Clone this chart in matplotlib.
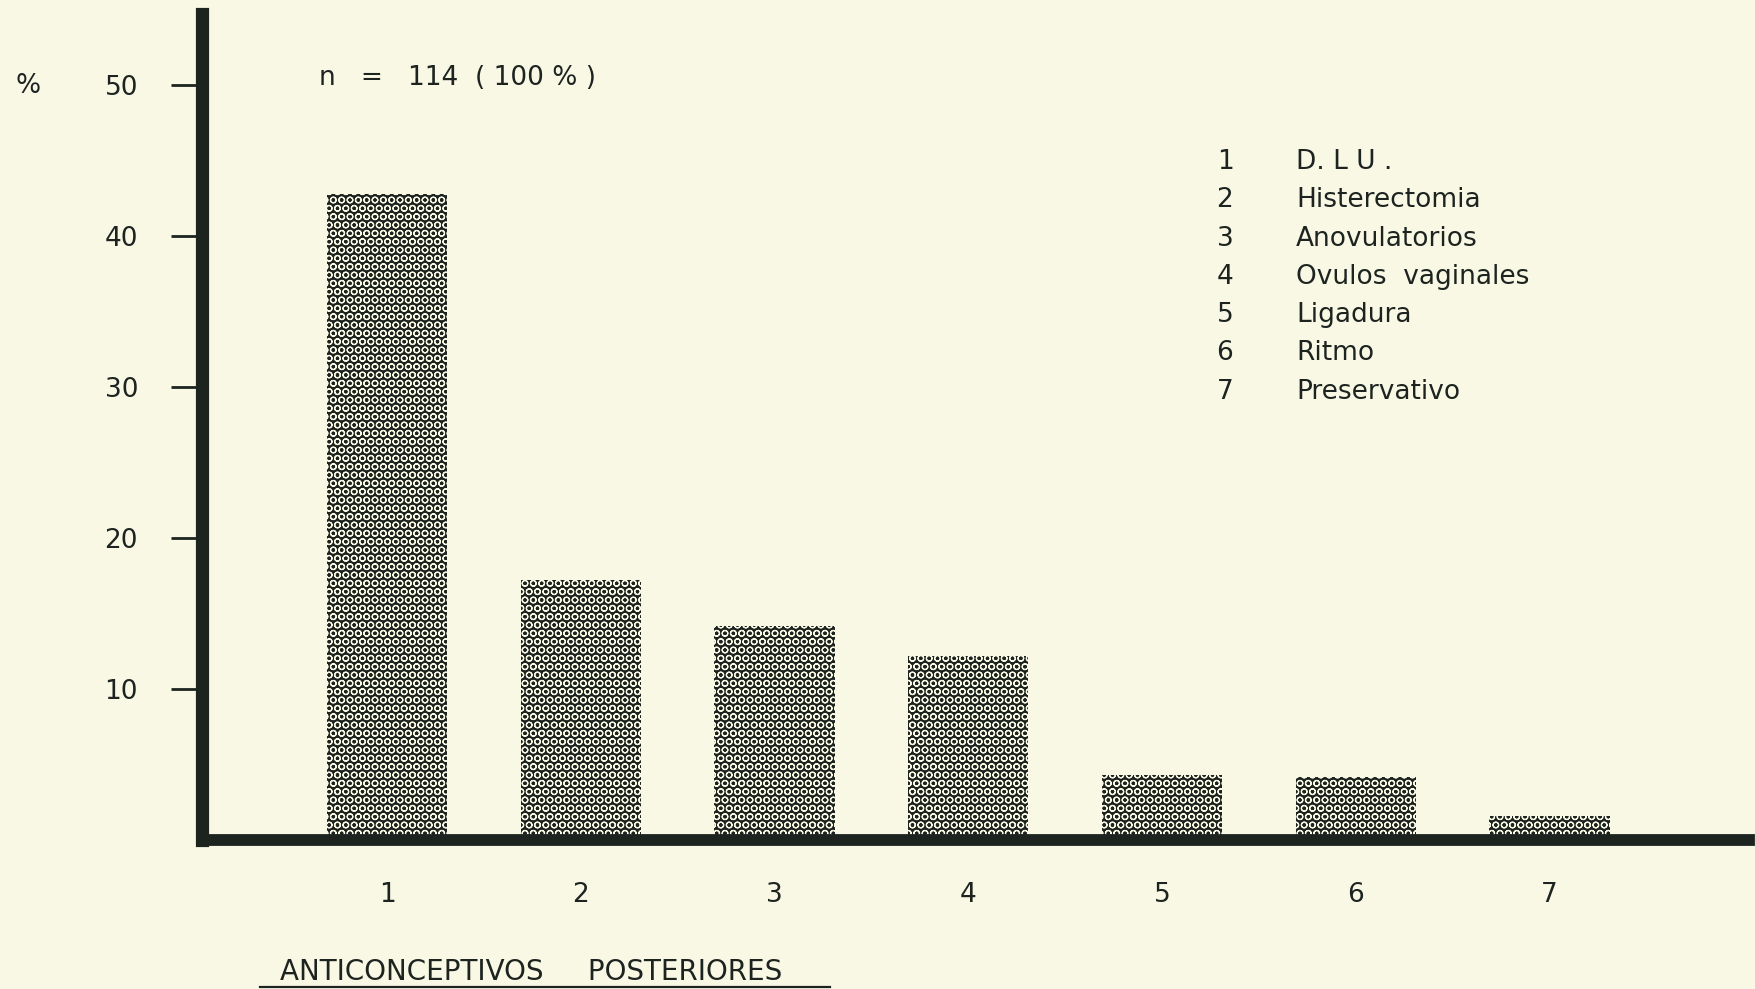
import matplotlib
matplotlib.use("Agg")
import matplotlib.pyplot as plt
from matplotlib.lines import Line2D

# Anticonceptivos posteriores, n = 114
categories = [1, 2, 3, 4, 5, 6, 7]
percent = [42.8, 17.2, 14.2, 12.2, 4.3, 4.2, 1.6]
methods = ["D. L U .", "Histerectomia", "Anovulatorios", "Ovulos  vaginales",
           "Ligadura", "Ritmo", "Preservativo"]
y_ticks = [10, 20, 30, 40, 50]

PAPER = "#f9f8e5"
INK = "#1d2420"
W, H = 1755, 989

plt.rcParams["font.family"] = ["DejaVu Sans"]
plt.rcParams["hatch.linewidth"] = 0.85

fig = plt.figure(figsize=(W / 100, H / 100), dpi=100)
fig.patch.set_facecolor(PAPER)

# axes placed so the y axis sits at x=202px and zero at y=840px
ax = fig.add_axes([202 / W, 1 - 840 / H, (1749 - 202) / W, (840 - 14) / H])
ax.set_facecolor(PAPER)

ax.bar(categories, percent, width=0.62, color=INK, edgecolor=PAPER,
       linewidth=0, hatch="OO", zorder=2)

ax.set_xlim(0.045, 8.03)
ax.set_ylim(0, (840 - 14) / 15.1)

for side in ["top", "right"]:
    ax.spines[side].set_visible(False)
ax.spines["left"].set_linewidth(9.5)
ax.spines["bottom"].set_linewidth(8.5)
for side in ["left", "bottom"]:
    ax.spines[side].set_color(INK)
    ax.spines[side].set_capstyle("projecting")
    ax.spines[side].set_zorder(3)

ax.set_yticks(y_ticks)
ax.set_yticklabels([str(v) for v in y_ticks])
ax.tick_params(axis="y", direction="out", length=22, width=2, color=INK,
               pad=24, labelsize=19, labelcolor=INK)
ax.set_xticks(categories)
ax.set_xticklabels([str(c) for c in categories])
ax.tick_params(axis="x", length=0, pad=30, labelsize=19, labelcolor=INK)

fig.text(28 / W, 1 - 86 / H, "%", fontsize=19, color=INK, ha="center", va="center")
fig.text(319 / W, 1 - 78 / H, "n   =   114  ( 100 % )", fontsize=19, color=INK,
         ha="left", va="center")

# numbered key at the upper right
for i, name in enumerate(methods):
    y = 1 - (162 + i * 38.3) / H
    fig.text(1225 / W, y, str(categories[i]), fontsize=19, color=INK,
             ha="center", va="center")
    fig.text(1296 / W, y, name, fontsize=19, color=INK, ha="left", va="center")

fig.text(280 / W, 1 - 972 / H, "ANTICONCEPTIVOS     POSTERIORES", fontsize=20,
         color=INK, ha="left", va="center")
fig.add_artist(Line2D([260 / W, 830 / W], [1 - 987 / H, 1 - 987 / H],
                      color=INK, linewidth=1.6))

fig.savefig("out.png", dpi=100, facecolor=PAPER)
